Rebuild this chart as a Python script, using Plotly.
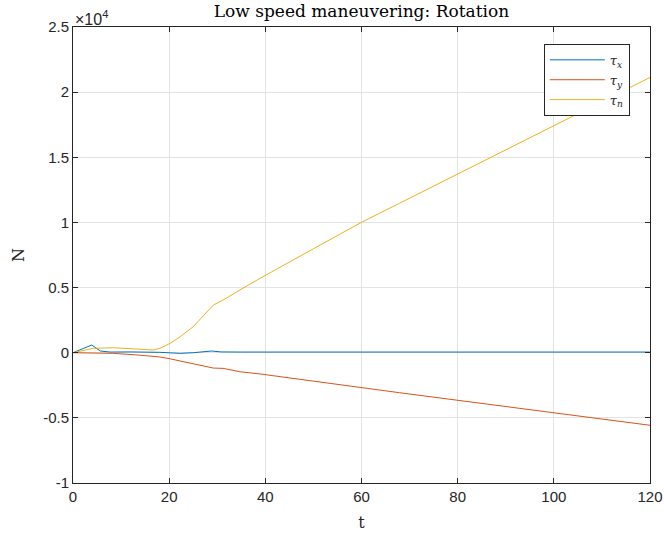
import plotly.graph_objects as go

# Data (N)
t_x = [0, 2, 3.9, 5.7, 7.7, 12, 18, 22.3, 25, 28.8, 30.8, 35, 120]
tau_x = [0, 300, 590, 130, 50, 60, 30, -50, 0, 130, 60, 50, 50]

t_y = [0, 5.9, 8.4, 13.3, 16.7, 18.1, 20.2, 22.3, 25, 29.2, 31.2, 34.7, 38.9, 67.9, 120]
tau_y = [0, 0, -50, -170, -270, -330, -470, -640, -820, -1180, -1200, -1460, -1630, -3070, -5570]

t_n = [0, 4.3, 8.4, 13.3, 16.7, 18.1, 20.2, 22.3, 25, 29.2, 31.2, 34.7, 38.9, 50, 60, 67.9, 120]
tau_n = [0, 340, 380, 260, 210, 340, 720, 1230, 2000, 3660, 4040, 4810, 5710, 7980, 10010, 11470, 21130]

x_ticks = [0, 20, 40, 60, 80, 100, 120]
y_ticks = [-10000, -5000, 0, 5000, 10000, 15000, 20000, 25000]
y_ticktext = ["-1", "-0.5", "0", "0.5", "1", "1.5", "2", "2.5"]

colors = ["#0072BD", "#D95319", "#EDB120"]
names = ["<i>τ<sub>x</sub></i>", "<i>τ<sub>y</sub></i>", "<i>τ<sub>n</sub></i>"]

fig = go.Figure()
for tt, vv, c, n in zip([t_x, t_y, t_n], [tau_x, tau_y, tau_n], colors, names):
    fig.add_trace(go.Scatter(x=tt, y=vv, mode="lines", name=n,
                             line=dict(color=c, width=1)))

axis_common = dict(
    showline=True, linecolor="#262626", linewidth=1, mirror="ticks",
    ticks="inside", ticklen=5, tickcolor="#262626", tickwidth=1,
    showgrid=True, gridcolor="#e3e3e3", gridwidth=1, zeroline=False,
    automargin=False,
    tickfont=dict(family="Liberation Sans, Arial", size=15, color="#262626"),
)

serif = "DejaVu Serif, Liberation Serif, serif"

fig.update_layout(
    width=664, height=538,
    margin=dict(l=73, r=14, t=27, b=55),
    paper_bgcolor="white", plot_bgcolor="white",
    title=dict(text="Low speed maneuvering: Rotation",
               font=dict(family=serif, size=17, color="#000000"),
               x=0.5443, xanchor="center", y=0.979, yanchor="middle"),
    xaxis=dict(range=[0, 120], tickvals=x_ticks,
               title=dict(text="t", font=dict(family=serif, size=16, color="#262626"), standoff=12),
               **axis_common),
    yaxis=dict(range=[-10000, 25000], tickvals=y_ticks, ticktext=y_ticktext,
               title=dict(text="N", font=dict(family=serif, size=16, color="#262626"), standoff=14),
               **axis_common),
    legend=dict(x=0.965, xanchor="right", y=0.963, yanchor="top",
                bgcolor="white", bordercolor="#262626", borderwidth=1,
                font=dict(family=serif, size=13, color="#262626"),
                tracegroupgap=0, itemwidth=55),
    showlegend=True,
)

fig.add_annotation(text="×10<sup>4</sup>", xref="paper", yref="paper",
                   x=0, y=1, xanchor="left", yanchor="bottom", showarrow=False,
                   font=dict(family="Liberation Sans, Arial", size=16, color="#262626"),
                   xshift=0, yshift=-3)

fig.write_html("out.html")
